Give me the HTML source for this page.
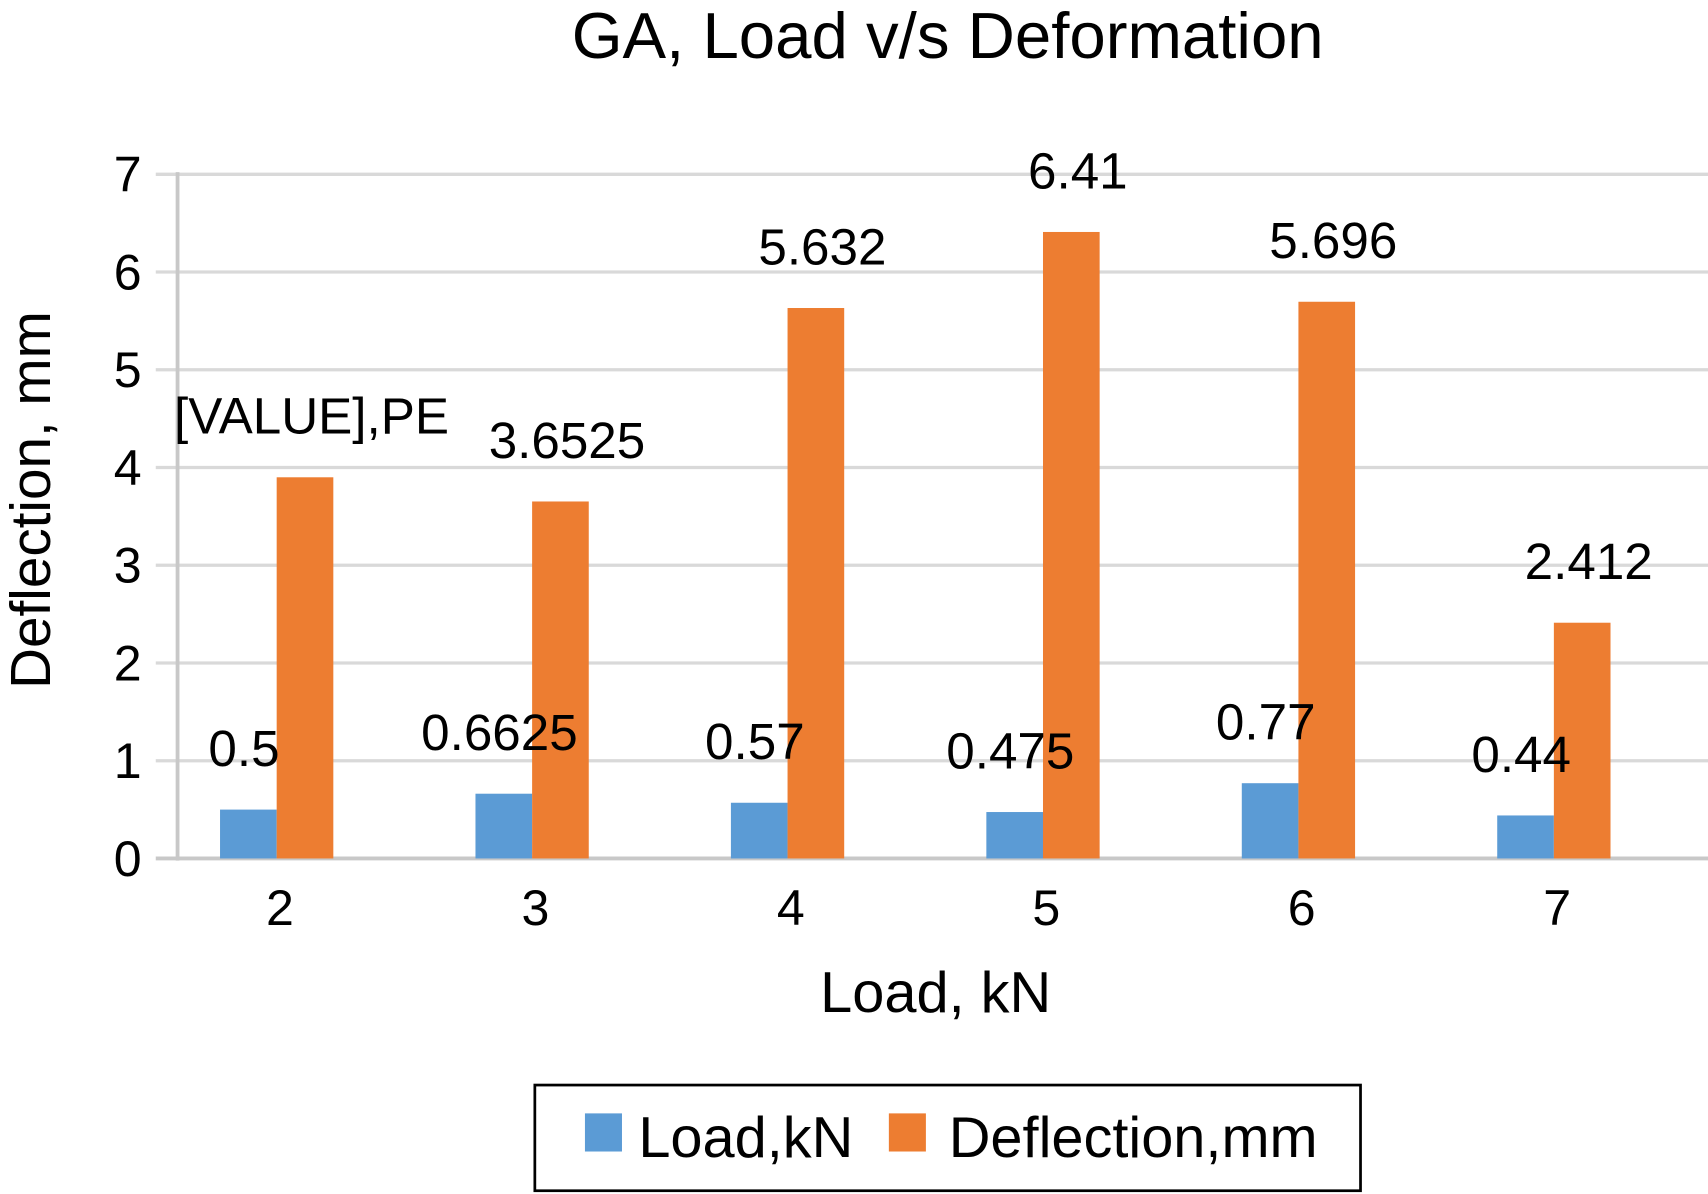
<!DOCTYPE html>
<html><head><meta charset="utf-8"><style>html,body{margin:0;padding:0;background:#fff}svg{display:block}text{font-family:"Liberation Sans",sans-serif;fill:#000}</style></head>
<body>
<svg id="chart" width="1708" height="1194" viewBox="0 0 1568 1096" preserveAspectRatio="none" xmlns="http://www.w3.org/2000/svg">
<text x="870" y="53" font-size="60" text-anchor="middle">GA, Load v/s Deformation</text>
<g id="grid"></g><g id="bars"></g><g id="labels"></g>
<text transform="translate(46,459) rotate(-90)" font-size="52" text-anchor="middle">Deflection, mm</text>
<text x="859" y="929" font-size="53" text-anchor="middle">Load, kN</text>
<g>
<rect x="491" y="996" width="758" height="97" fill="#fff" stroke="#000" stroke-width="2.5"/>
<rect x="537" y="1022" width="34" height="35" fill="#5b9bd5"/>
<text x="586" y="1062" font-size="53">Load,kN</text>
<rect x="816" y="1022" width="34" height="35" fill="#ed7d31"/>
<text x="871" y="1062" font-size="53">Deflection,mm</text>
</g>
</svg>
<script>
const categories=["2","3","4","5","6","7"];
const loadValues=[0.5,0.6625,0.57,0.475,0.77,0.44];
const deflectionValues=[3.9,3.6525,5.632,6.41,5.696,2.412];
const loadLabels=["0.5","0.6625","0.57","0.475","0.77","0.44"];
const deflectionLabels=["[VALUE],PE","3.6525","5.632","6.41","5.696","2.412"];
const yTicks=[0,1,2,3,4,5,6,7];
const NS="http://www.w3.org/2000/svg";
const y0=788, unit=(788-160)/7;
function yScale(v){return y0-v*unit;}
function xCenter(i){return 254+234.5*i;}
function mk(tag,attrs,parent,txt){const e=document.createElementNS(NS,tag);for(const k in attrs)e.setAttribute(k,attrs[k]);if(txt!==undefined)e.textContent=txt;parent.appendChild(e);return e;}
const grid=document.getElementById('grid'),bars=document.getElementById('bars'),labels=document.getElementById('labels');
yTicks.forEach(t=>{const y=yScale(t);
 const g=mk('line',{x1:143,x2:1568,y1:y,y2:y,stroke:t===0?'#c8c8c8':'#d9d9d9','stroke-width':t===0?3.5:3},grid);
 
 
 const l=mk('text',{x:130,y:y+16,'font-size':46,'text-anchor':'end'},labels,String(t));
 
 
});
const ax=mk('line',{x1:163,x2:163,y1:158,y2:790,stroke:'#c8c8c8','stroke-width':3.5},grid);


const bw=52;
categories.forEach((c,i)=>{const cx=xCenter(i);
 const b1=mk('rect',{x:cx-bw,y:yScale(loadValues[i]),width:bw,height:y0-yScale(loadValues[i]),fill:'#5b9bd5'},bars);
 
 
 const b2=mk('rect',{x:cx,y:yScale(deflectionValues[i]),width:bw,height:y0-yScale(deflectionValues[i]),fill:'#ed7d31'},bars);
 
 
 const t1=mk('text',{x:cx-bw/2-4,y:yScale(loadValues[i])-40,'font-size':47,'text-anchor':'middle'},labels,loadLabels[i]);
 
 
 const t2=mk('text',{x:cx+bw/2+6,y:yScale(deflectionValues[i])-40,'font-size':47,'text-anchor':'middle'},labels,deflectionLabels[i]);
 
 
 const xl=mk('text',{x:cx+3,y:849,'font-size':46,'text-anchor':'middle'},labels,c);
 
 
});
</script>
</body></html>
